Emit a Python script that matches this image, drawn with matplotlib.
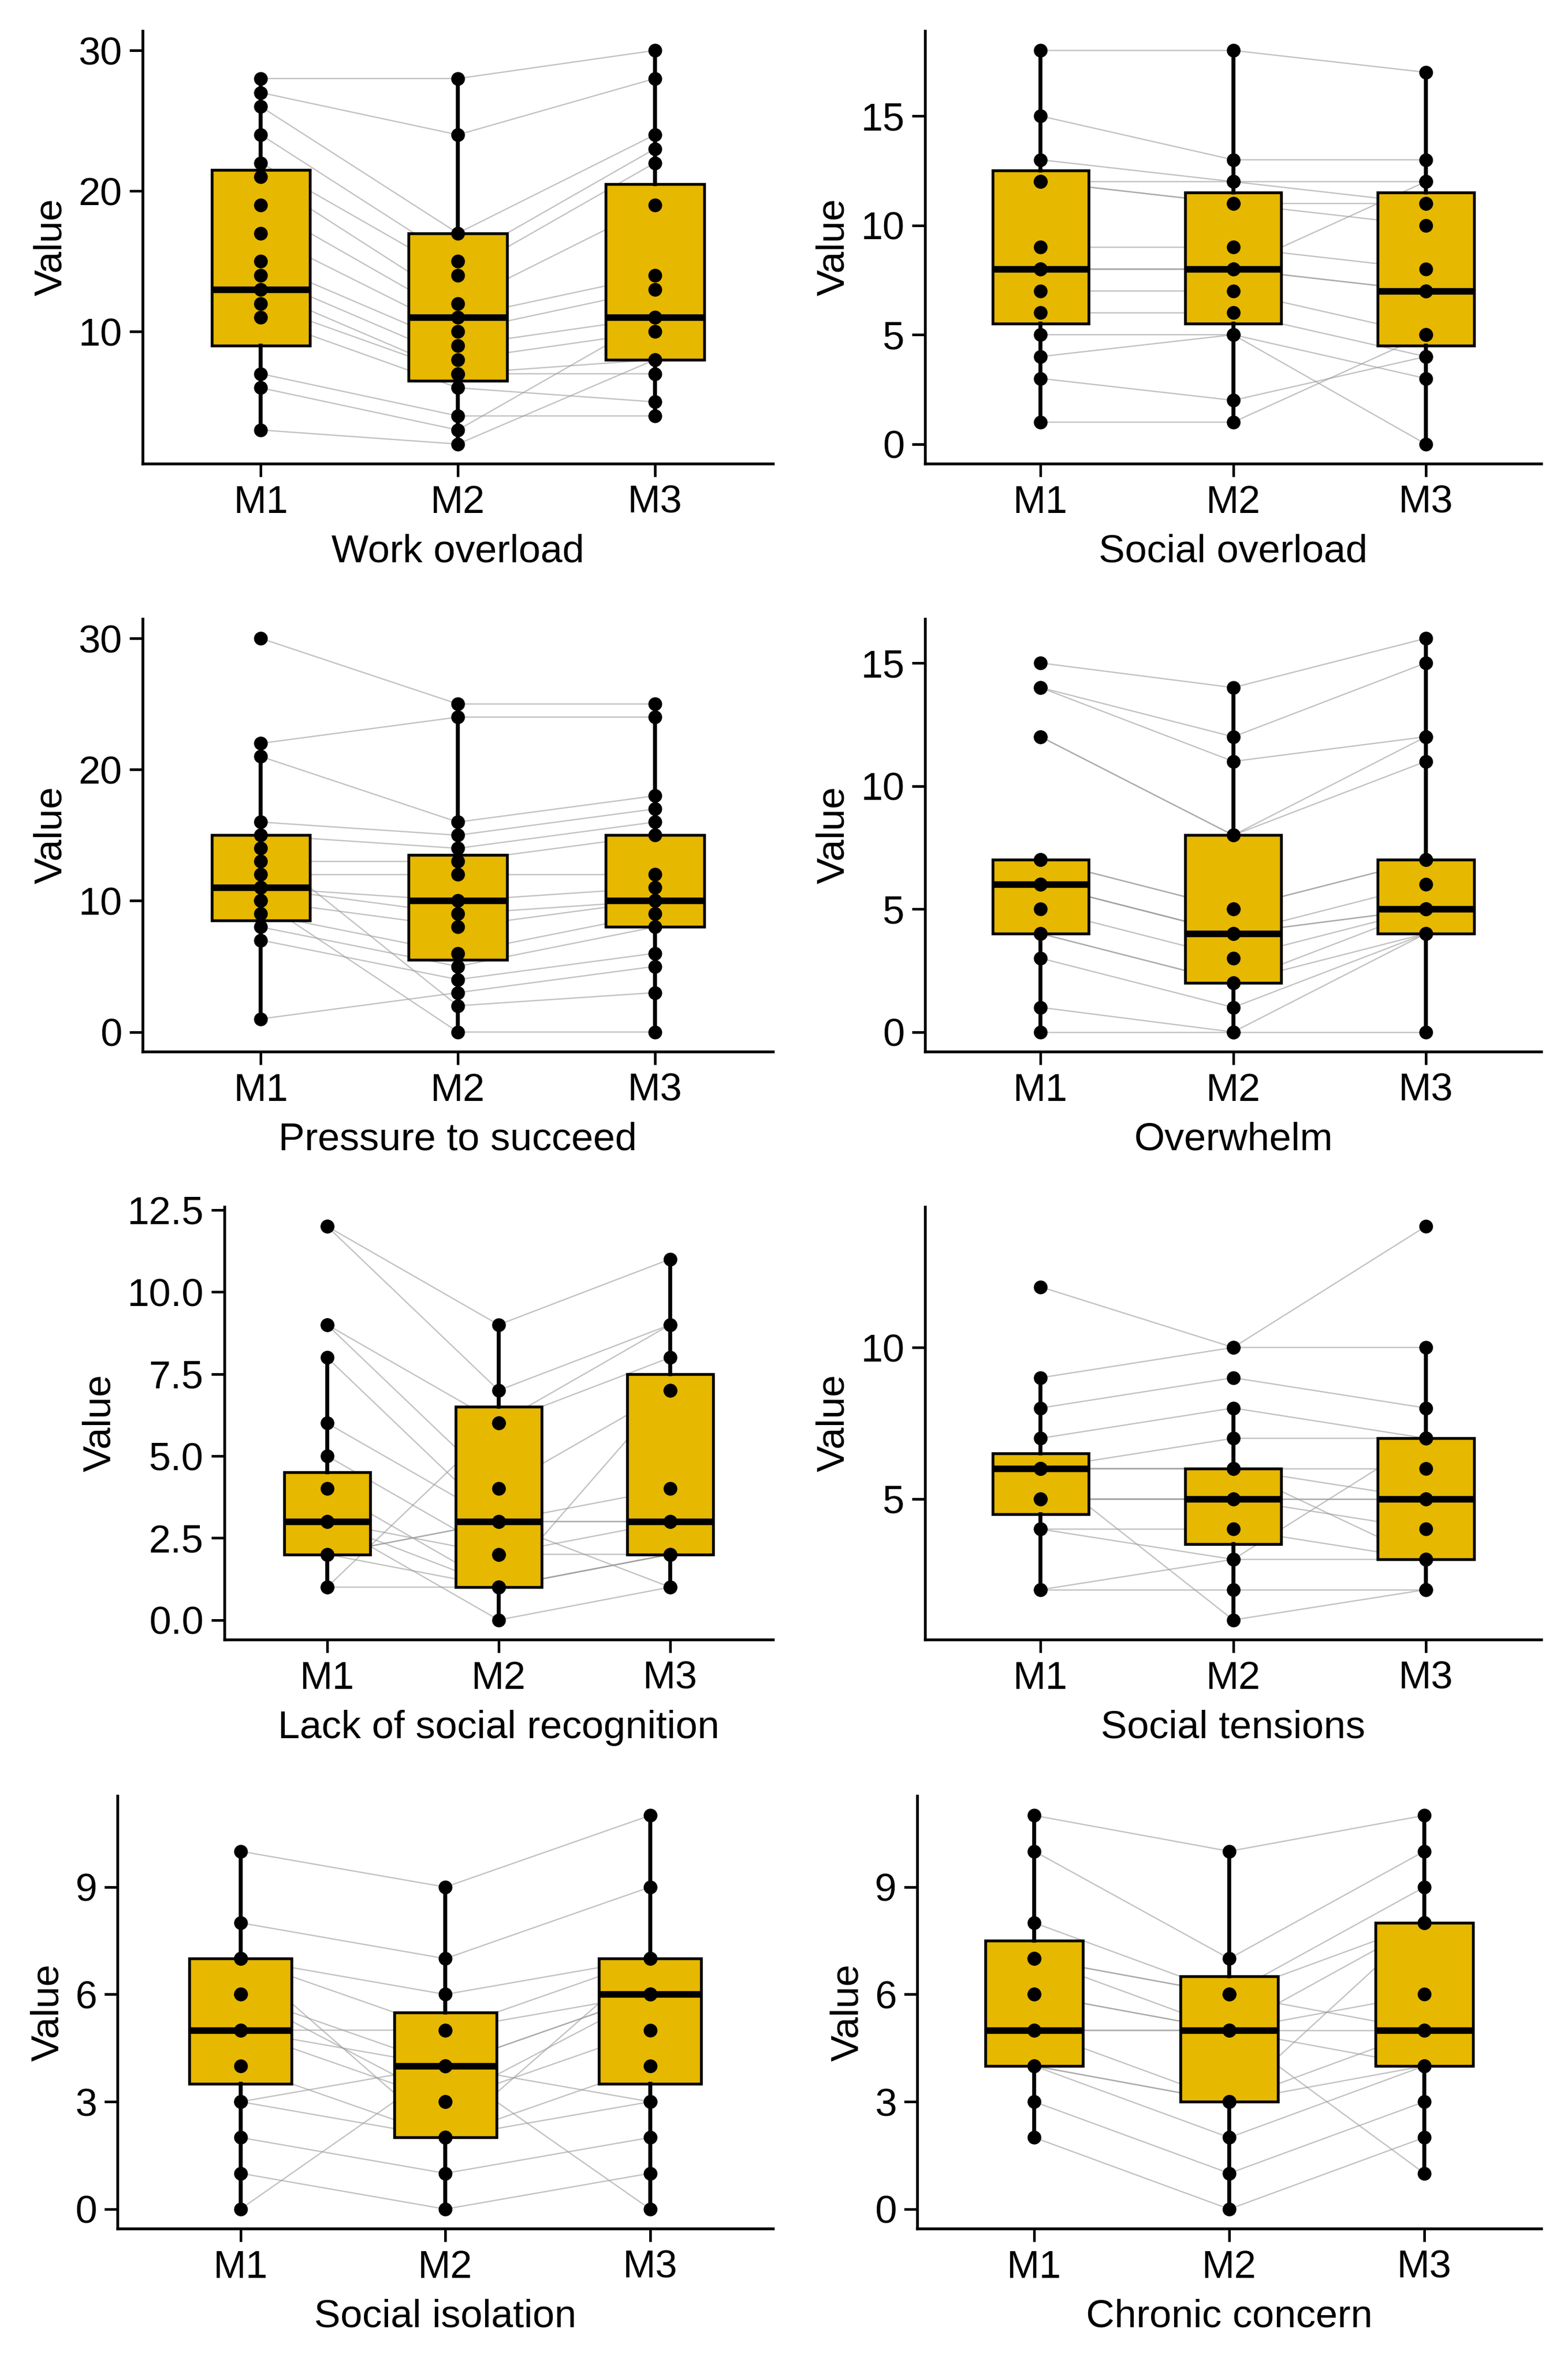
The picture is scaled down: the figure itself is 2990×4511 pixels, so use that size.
import matplotlib
matplotlib.use("Agg")
import matplotlib.pyplot as plt
from matplotlib.ticker import FormatStrFormatter

plt.rcParams["font.family"] = "Liberation Sans"

groups = ["M1", "M2", "M3"]
titles = ["Work overload", "Social overload", "Pressure to succeed", "Overwhelm",
          "Lack of social recognition", "Social tensions", "Social isolation", "Chronic concern"]

# per-subject values (paired by index) for M1, M2, M3
work = [[28,27,26,24,22,21,19,17,15,14,13,12,11,7,6,3],
        [28,24,17,15,14,12,11,10,9,8,7,7,6,4,3,2],
        [30,28,24,23,22,19,14,13,11,10,8,7,5,4,11,8]]
social = [[18,15,13,12,12,9,8,8,7,6,5,4,3,1,8,12],
          [18,13,12,11,11,9,8,8,7,6,5,5,2,1,8,12],
          [17,13,12,11,10,8,7,7,5,4,3,0,4,5,12,11]]
pressure = [[30,22,21,16,15,13,12,11,11,10,9,8,7,1,14,10],
            [25,24,16,15,14,13,12,10,9,8,6,5,4,3,2,0],
            [25,24,18,17,16,15,12,11,10,10,9,8,6,5,3,0]]
overwhelm = [[15,14,14,12,12,7,7,6,6,5,4,4,3,1,0,6],
             [14,12,11,8,8,5,5,4,4,3,2,2,1,0,0,4],
             [16,15,12,12,11,7,7,6,5,5,5,4,4,4,0,5]]
recognition = [[12,12,9,9,8,6,5,4,3,3,2,2,1,1,3,2],
               [9,7,6,4,3,3,2,1,1,0,3,1,1,6,2,3],
               [11,9,8,7,4,3,3,2,2,1,3,2,7,9,2,1]]
tensions = [[12,9,8,7,6,6,6,5,5,4,2,2,6,5,4,6],
            [10,10,9,8,7,6,6,5,5,4,3,2,1,5,3,6],
            [14,10,8,7,7,6,5,5,4,3,3,2,2,5,7,3]]
isolation = [[10,8,7,7,6,5,5,4,3,2,1,0,5,7,3,6],
             [9,7,6,5,4,4,3,2,2,1,0,4,5,2,4,3],
             [11,9,7,7,6,6,5,4,3,2,1,0,6,7,3,6]]
chronic = [[11,10,8,7,7,6,5,5,4,4,3,2,5,7,4,6],
           [10,7,6,6,5,5,5,3,3,2,1,0,5,6,3,5],
           [11,10,9,8,8,6,5,5,4,4,3,2,1,5,8,4]]
all_data = [work, social, pressure, overwhelm, recognition, tensions, isolation, chronic]

# box stats per panel: (whislo, q1, med, q3, whishi) for M1, M2, M3
box_stats = [
    [(3,9,13,21.5,28), (2,6.5,11,17,28), (4,8,11,20.5,30)],
    [(1,5.5,8,12.5,18), (1,5.5,8,11.5,18), (0,4.5,7,11.5,17)],
    [(1,8.5,11,15,22), (0,5.5,10,13.5,25), (0,8,10,15,25)],
    [(0,4,6,7,7), (0,2,4,8,14), (0,4,5,7,16)],
    [(1,2,3,4.5,8), (0,1,3,6.5,9), (1,2,3,7.5,11)],
    [(2,4.5,6,6.5,9), (1,3.5,5,6,8), (2,3,5,7,10)],
    [(0,3.5,5,7,10), (0,2,4,5.5,9), (0,3.5,6,7,11)],
    [(2,4,5,7.5,11), (0,3,5,6.5,10), (1,4,5,8,11)],
]
yticks = [[10,20,30],[0,5,10,15],[0,10,20,30],[0,5,10,15],
          [0,2.5,5,7.5,10,12.5],[5,10],[0,3,6,9],[0,3,6,9]]

fig = plt.figure(figsize=(2990/300, 4511/300), dpi=300)
lefts = [0.091, 0.590]
widths = [0.402, 0.393]
tops = [0.987, 0.7385, 0.490, 0.241]
h = 0.183
gold = "#E6B800"

for i in range(8):
    r, c = divmod(i, 2)
    left, width = lefts[c], widths[c]
    if i == 4:
        left, width = 0.143, 0.350
    if i == 6:
        left, width = 0.075, 0.418
    if i == 7:
        left, width = 0.585, 0.398
    ax = fig.add_axes([left, tops[r]-h, width, h])
    data = all_data[i]
    xs = [1, 2, 3]
    n = len(data[0])
    for k in range(n):
        ax.plot(xs, [data[0][k], data[1][k], data[2][k]], color="#9a9a9a",
                lw=0.6, alpha=0.6, zorder=1)
    stats = []
    for g, s in zip(groups, box_stats[i]):
        stats.append(dict(label=g, whislo=s[0], q1=s[1], med=s[2], q3=s[3],
                          whishi=s[4], fliers=[]))
    ax.bxp(stats, positions=xs, widths=0.5, patch_artist=True, showcaps=False,
           boxprops=dict(facecolor=gold, edgecolor="black", lw=1.3),
           medianprops=dict(color="black", lw=3),
           whiskerprops=dict(color="black", lw=1.8), zorder=2)
    for j in range(3):
        ax.scatter([xs[j]]*n, data[j], s=28, color="black", zorder=3)
    ax.set_xlim(0.4, 3.6)
    ax.set_yticks(yticks[i])
    if i == 4:
        ax.yaxis.set_major_formatter(FormatStrFormatter("%.1f"))
    ax.set_xticks(xs)
    ax.set_xticklabels(groups)
    ax.tick_params(labelsize=18, length=6, width=1.2, colors="black")
    ax.set_ylabel("Value", fontsize=18)
    ax.set_xlabel(titles[i], fontsize=18, labelpad=6)
    for sp in ["top", "right"]:
        ax.spines[sp].set_visible(False)
    for sp in ["left", "bottom"]:
        ax.spines[sp].set_linewidth(1.3)

fig.savefig("out.png", dpi=300, facecolor="white")
